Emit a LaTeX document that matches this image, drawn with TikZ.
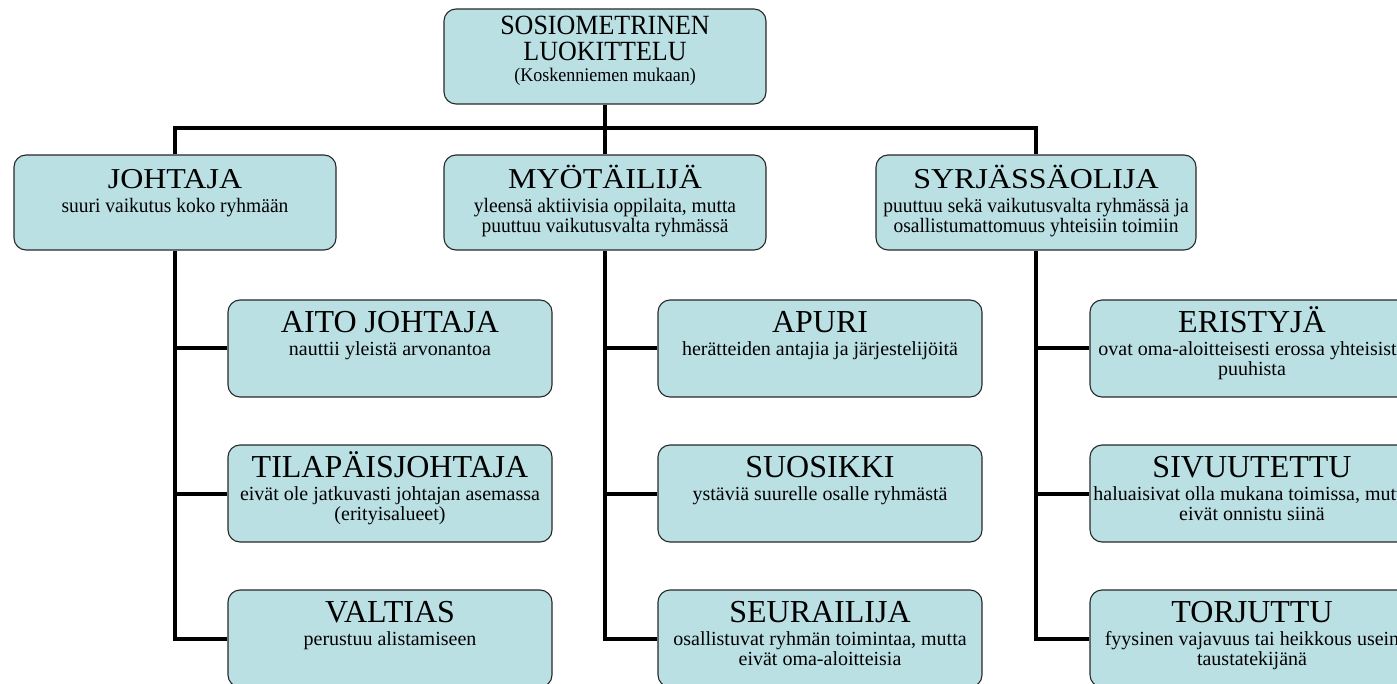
\documentclass[tikz,border=0pt]{standalone}
\usepackage{fontspec}
\setmainfont{Liberation Serif}
\usepackage{graphicx}
\newcommand\mylines[1]{\begin{tabular}[t]{@{}c@{}}#1\end{tabular}}
\definecolor{boxfill}{RGB}{186,224,228}
\definecolor{boxline}{RGB}{40,40,40}
\tikzset{
  box/.style={draw=boxline, line width=1.1pt, fill=boxfill, rounded corners=12pt,
              minimum width=322pt, minimum height=95pt, inner sep=0pt},
  boxtwo/.style={box, minimum width=324pt, minimum height=97pt},
  conn/.style={line width=4pt, line join=miter},
  txt/.style={inner sep=0pt, anchor=base},
  rootttl/.style={txt, font=\fontsize{26}{24}\selectfont},
  rootsub/.style={txt, font=\fontsize{18}{18}\selectfont},
  ttlone/.style={txt, font=\fontsize{32}{32}\selectfont},
  subone/.style={txt, font=\fontsize{19.5}{18.5}\selectfont},
  ttltwo/.style={txt, font=\fontsize{32}{32}\selectfont},
  subtwo/.style={txt, font=\fontsize{20}{20}\selectfont},
}
\begin{document}
\begin{tikzpicture}[x=1pt,y=-1pt]
\useasboundingbox (0,0) rectangle (1397,684);
\clip (0,0) rectangle (1397,684);

% boxes
\node[box] (root) at (605,56.5) {};
\node[box] (joh) at (175,202.5) {};
\node[box] (myo) at (605,202.5) {};
\node[box, minimum width=320pt] (syr) at (1036,202.5) {};

\node[boxtwo] (aito) at (390,348.5) {};
\node[boxtwo] (tila) at (390,493.5) {};
\node[boxtwo] (valt) at (390,638.5) {};
\node[boxtwo] (apuri) at (820,348.5) {};
\node[boxtwo] (suos) at (820,493.5) {};
\node[boxtwo] (seur) at (820,638.5) {};
\node[boxtwo] (eris) at (1252,348.5) {};
\node[boxtwo] (sivu) at (1252,493.5) {};
\node[boxtwo] (torj) at (1252,638.5) {};

% texts
\node[rootttl] (root-t) at ([yshift=-26pt]root.north) {\scalebox{1}[1.07]{\mylines{SOSIOMETRINEN\\LUOKITTELU}}};
\node[rootsub] (root-s) at ([yshift=-73pt]root.north) {\scalebox{1}[1.07]{(Koskenniemen mukaan)}};

\node[ttlone] (joh-t) at ([yshift=-34pt]joh.north) {\scalebox{1}[0.9]{JOHTAJA}};
\node[subone] (joh-s) at ([yshift=-58pt]joh.north) {\scalebox{1}[1.05]{\mylines{suuri vaikutus koko ryhmään}}};
\node[ttlone] (myo-t) at ([yshift=-34pt]myo.north) {\scalebox{1}[0.9]{MYÖTÄILIJÄ}};
\node[subone] (myo-s) at ([yshift=-58pt]myo.north) {\scalebox{1}[1.05]{\mylines{yleensä aktiivisia oppilaita, mutta\\puuttuu vaikutusvalta ryhmässä}}};
\node[ttlone] (syr-t) at ([yshift=-34pt]syr.north) {\scalebox{1}[0.9]{SYRJÄSSÄOLIJA}};
\node[subone] (syr-s) at ([yshift=-58pt]syr.north) {\scalebox{1}[1.05]{\mylines{puuttuu sekä vaikutusvalta ryhmässä ja\\osallistumattomuus yhteisiin toimiin}}};

\node[ttltwo] (aito-t) at ([yshift=-33pt]aito.north) {AITO JOHTAJA};
\node[subtwo] (aito-s) at ([yshift=-56pt]aito.north) {\mylines{nauttii yleistä arvonantoa}};
\node[ttltwo] (tila-t) at ([yshift=-33pt]tila.north) {TILAPÄISJOHTAJA};
\node[subtwo] (tila-s) at ([yshift=-56pt]tila.north) {\mylines{eivät ole jatkuvasti johtajan asemassa\\(erityisalueet)}};
\node[ttltwo] (valt-t) at ([yshift=-33pt]valt.north) {VALTIAS};
\node[subtwo] (valt-s) at ([yshift=-56pt]valt.north) {\mylines{perustuu alistamiseen}};

\node[ttltwo] (apuri-t) at ([yshift=-33pt]apuri.north) {APURI};
\node[subtwo] (apuri-s) at ([yshift=-56pt]apuri.north) {\mylines{herätteiden antajia ja järjestelijöitä}};
\node[ttltwo] (suos-t) at ([yshift=-33pt]suos.north) {SUOSIKKI};
\node[subtwo] (suos-s) at ([yshift=-56pt]suos.north) {\mylines{ystäviä suurelle osalle ryhmästä}};
\node[ttltwo] (seur-t) at ([yshift=-33pt]seur.north) {SEURAILIJA};
\node[subtwo] (seur-s) at ([yshift=-56pt]seur.north) {\mylines{osallistuvat ryhmän toimintaa, mutta\\eivät oma-aloitteisia}};

\node[ttltwo] (eris-t) at ([yshift=-33pt]eris.north) {ERISTYJÄ};
\node[subtwo] (eris-s) at ([yshift=-56pt]eris.north) {\mylines{ovat oma-aloitteisesti erossa yhteisistä\\puuhista}};
\node[ttltwo] (sivu-t) at ([yshift=-33pt]sivu.north) {SIVUUTETTU};
\node[subtwo] (sivu-s) at ([yshift=-56pt]sivu.north) {\mylines{haluaisivat olla mukana toimissa, mutta\\eivät onnistu siinä}};
\node[ttltwo] (torj-t) at ([yshift=-33pt]torj.north) {TORJUTTU};
\node[subtwo] (torj-s) at ([yshift=-56pt]torj.north) {\mylines{fyysinen vajavuus tai heikkous usein\\taustatekijänä}};

% connectors
\coordinate (bar) at (605,128);
\draw[conn] (root.south) -- (bar) -- (myo.north);
\draw[conn] (joh.north) -- (joh.north |- bar) -- (syr.north |- bar) -- (syr.north);

\draw[conn] (joh.south) -- (joh.south |- valt.west) -- (valt.west);
\draw[conn] (joh.south |- aito.west) -- (aito.west);
\draw[conn] (joh.south |- tila.west) -- (tila.west);

\draw[conn] (myo.south) -- (myo.south |- seur.west) -- (seur.west);
\draw[conn] (myo.south |- apuri.west) -- (apuri.west);
\draw[conn] (myo.south |- suos.west) -- (suos.west);

\draw[conn] (syr.south) -- (syr.south |- torj.west) -- (torj.west);
\draw[conn] (syr.south |- eris.west) -- (eris.west);
\draw[conn] (syr.south |- sivu.west) -- (sivu.west);
\end{tikzpicture}
\end{document}
